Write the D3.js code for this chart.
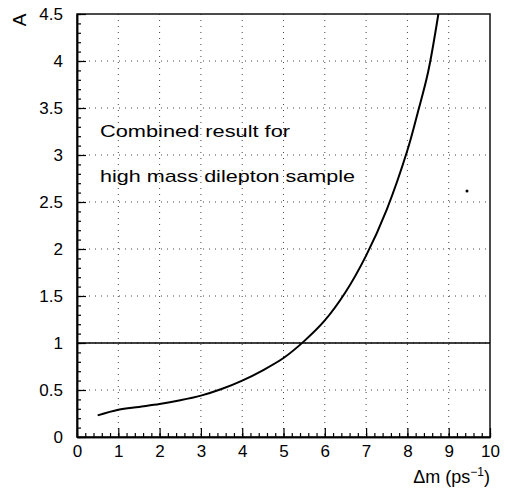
<!DOCTYPE html>
<html><head><meta charset="utf-8">
<script src="https://cdn.jsdelivr.net/npm/d3@7"></script>
<style>body{margin:0;background:#fff}svg{display:block}text{font-family:"Liberation Sans",Arial,sans-serif;fill:#000}</style>
</head><body><svg id="c" width="508" height="488"></svg>
<script>
const dmValues = [0.5,1,1.5,2,2.5,3,3.5,4,4.5,5,5.5,6,6.5,7,7.5,8,8.25,8.5,8.75];
const aValues  = [0.23,0.29,0.32,0.35,0.39,0.44,0.51,0.60,0.71,0.84,1.02,1.24,1.54,1.93,2.42,3.05,3.45,3.88,4.5];
const xTicks = [0,1,2,3,4,5,6,7,8,9,10];
const yTicks = [0,0.5,1,1.5,2,2.5,3,3.5,4,4.5];
const refLine = [1];
const noteLines = ["Combined result for","high mass dilepton sample"];

const svg = d3.select("#c");
const x = d3.scaleLinear().domain([0,10]).range([77,490]);
const y = d3.scaleLinear().domain([0,4.5]).range([437,14]);

// dotted grid
const g = svg.append("g").attr("stroke","#444").attr("stroke-width",1).attr("stroke-dasharray","1,5");
g.selectAll(".gx").data(xTicks.slice(1,-1)).join("line")
  .attr("x1",d=>x(d)).attr("x2",d=>x(d)).attr("y1",y(4.5)).attr("y2",y(0));
g.selectAll(".gy").data(yTicks.slice(1,-1)).join("line")
  .attr("x1",x(0)).attr("x2",x(10)).attr("y1",d=>y(d)).attr("y2",d=>y(d));

// frame
svg.append("rect").attr("x",x(0)).attr("y",y(4.5)).attr("width",x(10)-x(0)).attr("height",y(0)-y(4.5))
  .attr("fill","none").attr("stroke","#111").attr("stroke-width",1.5);

// axes
const xMinor = d3.range(0,10.001,0.2);
const yMinor = d3.range(0,4.501,0.1);
const bx = svg.append("g").attr("transform",`translate(0,${y(0)})`);
bx.call(d3.axisBottom(x).tickValues(xMinor).tickSizeInner(-4).tickSizeOuter(0).tickFormat(""));
bx.append("g").call(d3.axisBottom(x).tickValues(xTicks).tickSizeInner(-9).tickSizeOuter(0).tickPadding(8).tickFormat(d3.format("d")));
bx.selectAll("text").attr("font-size",17).attr("font-family","Liberation Sans, Arial, sans-serif").attr("fill","#000");
bx.selectAll(".domain").attr("stroke","#000").attr("stroke-width",1.5);
bx.selectAll("line").attr("stroke","#000").attr("stroke-width",1.2);

const ly = svg.append("g").attr("transform",`translate(${x(0)},0)`);
ly.call(d3.axisLeft(y).tickValues(yMinor).tickSizeInner(-4).tickSizeOuter(0).tickFormat(""));
ly.append("g").call(d3.axisLeft(y).tickValues(yTicks).tickSizeInner(-9).tickSizeOuter(0).tickPadding(14).tickFormat(d=>String(d)));
ly.selectAll("text").attr("font-size",17).attr("font-family","Liberation Sans, Arial, sans-serif").attr("fill","#000");
ly.selectAll(".domain").attr("stroke","#000").attr("stroke-width",1.5);
ly.selectAll("line").attr("stroke","#000").attr("stroke-width",1.2);

// reference line A = 1
svg.selectAll(".ref").data(refLine).join("line")
  .attr("x1",x(0)).attr("x2",x(10)).attr("y1",d=>y(d)).attr("y2",d=>y(d))
  .attr("stroke","#000").attr("stroke-width",1.6);

// curve
const pts = dmValues.map((d,i)=>[d,aValues[i]]);
svg.append("path").datum(pts)
  .attr("d",d3.line().x(d=>x(d[0])).y(d=>y(d[1])).curve(d3.curveCatmullRom.alpha(0.5)))
  .attr("fill","none").attr("stroke","#000").attr("stroke-width",2);

// note text
svg.append("text").attr("x",100).attr("y",137).attr("font-size",17)
  .attr("textLength",190).attr("lengthAdjust","spacingAndGlyphs").text(noteLines[0]);
svg.append("text").attr("x",100).attr("y",182).attr("font-size",17)
  .attr("textLength",255).attr("lengthAdjust","spacingAndGlyphs").text(noteLines[1]);

// small speck
svg.append("circle").attr("cx",467).attr("cy",191).attr("r",1.5).attr("fill","#000");

// axis titles
svg.append("text").attr("transform","translate(26,20) rotate(-90)").attr("text-anchor","middle")
  .attr("font-size",19).text("A");
const xt = svg.append("text").attr("x",490).attr("y",483).attr("text-anchor","end").attr("font-size",18);
xt.append("tspan").text("\u0394m (ps");
xt.append("tspan").attr("dy",-7).attr("font-size",12).text("\u22121");
xt.append("tspan").attr("dy",7).text(")");
</script></body></html>
